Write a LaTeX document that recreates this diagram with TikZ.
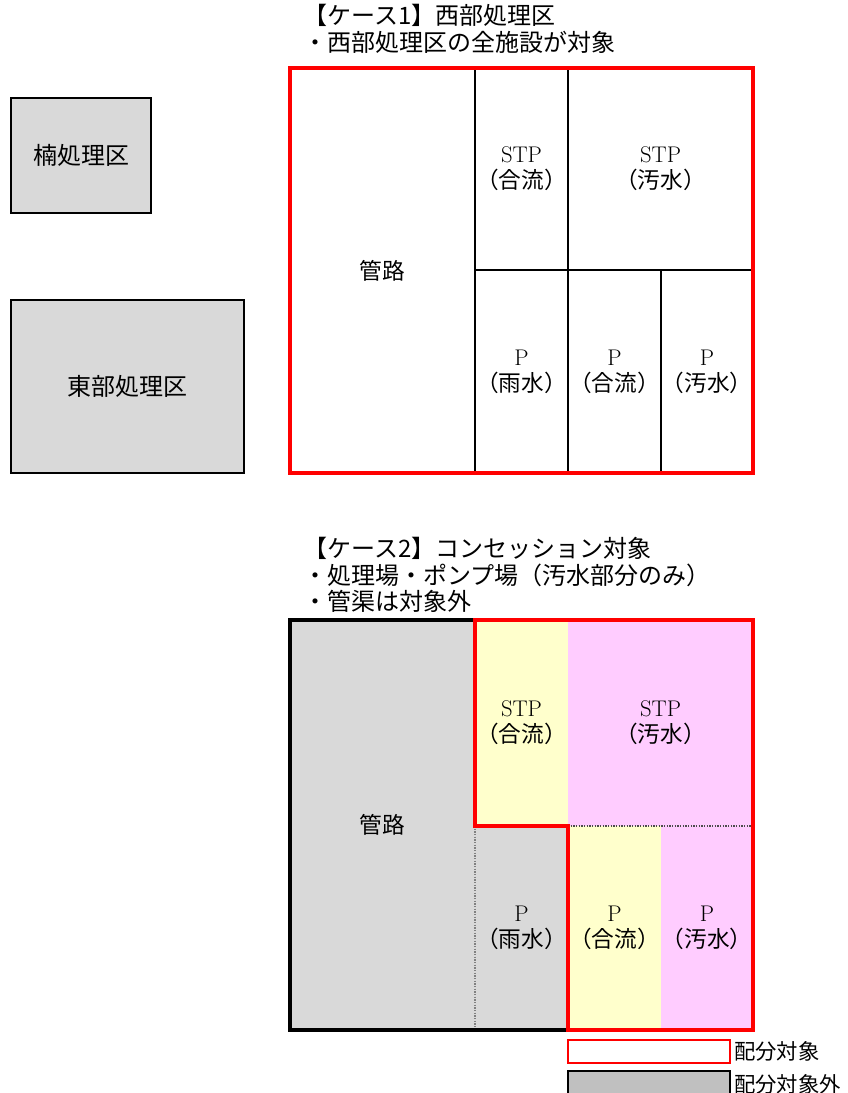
\documentclass[tikz,border=0pt]{standalone}
\usepackage{fontspec}
\newfontfamily\jpfont{Noto Sans CJK JP}
\usetikzlibrary{positioning}
\definecolor{cellgray}{HTML}{D9D9D9}
\definecolor{legendgray}{HTML}{C0C0C0}
\definecolor{cellyellow}{HTML}{FFFFCC}
\definecolor{cellpink}{HTML}{FFCCFF}
\definecolor{framered}{HTML}{FF0000}

\begin{document}
\begin{tikzpicture}[x=0.75pt, y=-0.75pt,
    every node/.style={font=\fontsize{18}{20}\selectfont},
    cell/.style={rectangle, anchor=north west, inner sep=0pt, outer sep=0pt, align=center,
        font=\fontsize{17}{19.5}\selectfont},
    plaincell/.style={cell, draw=black, line width=1.5pt},
    areabox/.style={rectangle, draw=black, line width=1.5pt, fill=cellgray, anchor=north west, inner sep=0pt, outer sep=0pt},
    redframe/.style={draw=framered, line width=3pt},
    blackframe/.style={draw=black, line width=3pt},
    title/.style={anchor=north west, align=left, inner sep=0pt},
    legendtext/.style={anchor=west, inner sep=0pt, font=\fontsize{16}{18}\selectfont}]
    \useasboundingbox (0,0) rectangle (847,1093);

    % left areas
    \node[areabox, minimum width=140*0.75pt, minimum height=115*0.75pt] (kusu) at (11,98) {\jpfont 楠処理区};
    \node[areabox, minimum width=233*0.75pt, minimum height=173*0.75pt] (tobu) at (11,300) {\jpfont 東部処理区};

    % case 1
    \node[title] (case1) at (303,4) {\jpfont 【ケース1】西部処理区\\\jpfont ・西部処理区の全施設が対象};
    \node[plaincell, minimum width=185*0.75pt, minimum height=405*0.75pt] (kanro1) at (290,68) {\jpfont 管路};
    \node[plaincell, minimum width=93*0.75pt, minimum height=202*0.75pt] (stpg1) at (475,68) {STP\\\jpfont （合流）};
    \node[plaincell, minimum width=185*0.75pt, minimum height=202*0.75pt] (stpo1) at (568,68) {STP\\\jpfont （汚水）};
    \node[plaincell, minimum width=93*0.75pt, minimum height=203*0.75pt] (pu1) at (475,270) {P\\\jpfont （雨水）};
    \node[plaincell, minimum width=93*0.75pt, minimum height=203*0.75pt] (pg1) at (568,270) {P\\\jpfont （合流）};
    \node[plaincell, minimum width=92*0.75pt, minimum height=203*0.75pt] (po1) at (661,270) {P\\\jpfont （汚水）};
    \draw[redframe] (kanro1.north west) rectangle (po1.south east);

    % case 2
    \node[title] (case2) at (303,537) {\jpfont 【ケース2】コンセッション対象\\\jpfont ・処理場・ポンプ場（汚水部分のみ）\\\jpfont ・管渠は対象外};
    \node[cell, fill=cellgray, minimum width=185*0.75pt, minimum height=410*0.75pt] (kanro2) at (290,620) {\jpfont 管路};
    \node[cell, fill=cellyellow, minimum width=93*0.75pt, minimum height=206*0.75pt] (stpg2) at (475,620) {STP\\\jpfont （合流）};
    \node[cell, fill=cellpink, minimum width=185*0.75pt, minimum height=206*0.75pt] (stpo2) at (568,620) {STP\\\jpfont （汚水）};
    \node[cell, fill=cellgray, minimum width=93*0.75pt, minimum height=204*0.75pt] (pu2) at (475,826) {P\\\jpfont （雨水）};
    \node[cell, fill=cellyellow, minimum width=93*0.75pt, minimum height=204*0.75pt] (pg2) at (568,826) {P\\\jpfont （合流）};
    \node[cell, fill=cellpink, minimum width=92*0.75pt, minimum height=204*0.75pt] (po2) at (661,826) {P\\\jpfont （汚水）};
    \draw[gray, densely dotted, line width=1pt] (pu2.north west) -- (pu2.south west);
    \draw[black!70, densely dotted, line width=1pt] (pg2.north west) -- (po2.north east);
    \draw[blackframe] (stpg2.north west) -- (kanro2.north west) -- (kanro2.south west) -- (pu2.south east);
    \draw[redframe] (stpg2.north west) -- (stpo2.north east) -- (po2.south east) -- (pg2.south west)
        -- (pg2.north west) -- (pu2.north west) -- cycle;

    % legend
    \node[cell, draw=framered, line width=1.5pt, fill=white, minimum width=162*0.75pt, minimum height=23*0.75pt] (legin) at (568,1040) {};
    \node[cell, draw=black, line width=1.5pt, fill=legendgray, minimum width=162*0.75pt, minimum height=26*0.75pt] (legout) at (568,1071) {};
    \node[legendtext, right=3pt of legin] (legintext) {\jpfont 配分対象};
    \node[legendtext, right=3pt of legout] (legouttext) {\jpfont 配分対象外};
\end{tikzpicture}
\end{document}
